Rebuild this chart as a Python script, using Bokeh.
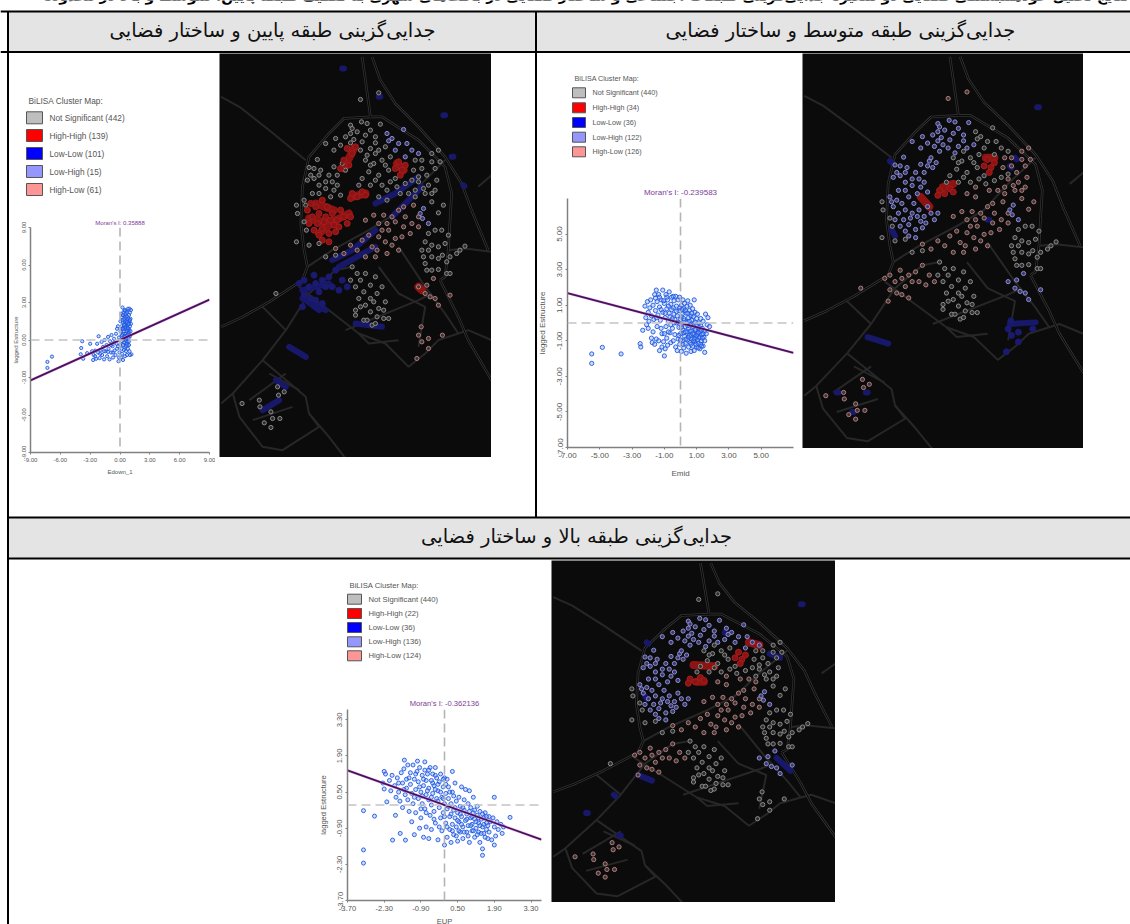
from bokeh.plotting import figure
from bokeh.layouts import column
from bokeh.models import FixedTicker, NumeralTickFormatter, Range1d, Span
from bokeh.core.properties import value
from bokeh.embed import file_html
from bokeh.resources import INLINE

# ---------- table texts ----------
caption = "نتایج تحلیل خودهمبستگی فضایی دو متغیره جدایی‌گزینی طبقات اجتماعی و ساختار فضایی در بافت‌های شهری به تفکیک طبقه پایین، متوسط و بالا در محدوده"
head_low = "جدایی‌گزینی طبقه پایین و ساختار فضایی"
head_mid = "جدایی‌گزینی طبقه متوسط و ساختار فضایی"
head_up = "جدایی‌گزینی طبقه بالا و ساختار فضایی"

legend_title = "BiLISA Cluster Map:"
legend_colors = ["#bebebe", "#ff0000", "#0000ff", "#9696ff", "#ff9696"]
legend_low = ["Not Significant (442)", "High-High (139)", "Low-Low (101)", "Low-High (15)", "High-Low (61)"]
legend_mid = ["Not Significant (440)", "High-High (34)", "Low-Low (36)", "Low-High (122)", "High-Low (126)"]
legend_up = ["Not Significant (440)", "High-High (22)", "Low-Low (36)", "Low-High (136)", "High-Low (124)"]

# ---------- Moran scatter plots ----------
moran_low, moran_mid, moran_up = 0.35888, -0.239583, -0.362136
ticks_low = [-9, -6, -3, 0, 3, 6, 9]
ticks_mid = [-7, -5, -3, -1, 1, 3, 5]
ticks_up = [-3.7, -2.3, -0.9, 0.5, 1.9, 3.3]

low_points = [(-7.3,-1.75),(-7.3,-2.23),(-6.84,-1.33),(-3.8,-0.1),(-3.9,-0.64),(-3.95,-1.14),(-3.7,-1.5),(-3.3,-1.05),(-3.0,-0.3),(-2.8,-0.9),(-2.7,-1.6),(-2.65,-1.2),(-2.5,-0.85),(-2.4,-1.5),(-2.3,-0.3),(-2.2,-1.0),(-2.15,0.3),(-2.05,-1.45),(-1.95,-0.8),(-1.85,-0.15),(-1.8,-1.2),(-1.7,-0.55),(-1.6,-1.55),(-1.55,0.0),(-1.45,-0.9),(-1.35,-0.4),(-1.3,-1.3),(-1.2,0.25),(-1.15,-0.7),(-1.05,-1.55),(-1.0,-0.1),(-0.9,-1.0),(-0.85,0.4),(-0.75,-0.5),(-0.7,-1.4),(-0.6,0.1),(-0.55,-0.85),(-0.45,-1.2),(-0.4,0.5),(-0.35,-0.3),(-0.3,-0.7),(-0.2,1.1),(-0.15,-1.7),(-0.1,0.2),(-0.05,-1.0),
(0.05,1.5),(0.05,0.7),(0.05,-0.4),(0.1,-1.4),(0.15,2.1),(0.15,1.1),(0.15,0.3),(0.15,-0.7),(0.2,1.8),(0.2,0.9),(0.2,-0.1),(0.2,-1.1),(0.25,2.6),(0.3,1.4),(0.3,0.5),(0.3,-0.4),(0.3,-1.6),(0.35,2.2),(0.35,1.0),(0.35,0.1),(0.4,1.7),(0.4,0.7),(0.4,-0.8),(0.45,2.4),(0.45,1.3),(0.45,0.3),(0.45,-0.2),(0.5,1.9),(0.5,0.9),(0.5,-0.6),(0.5,-1.3),(0.55,2.1),(0.55,1.5),(0.55,0.5),(0.55,0),(0.6,1.1),(0.6,1.8),(0.6,0.2),(0.6,-0.9),(0.65,2.3),(0.65,1.4),(0.65,0.7),(0.65,-0.3),(0.7,1.9),(0.7,1.0),(0.7,0.4),(0.7,-1.2),(0.75,1.6),(0.75,0.8),(0.75,-0.1),(0.8,2.5),(0.8,1.2),(0.8,0.5),(0.8,-0.7),(0.85,1.7),(0.85,0.9),(0.85,0.1),(0.9,2.0),(0.9,1.3),(0.9,0.6),(0.9,-0.4),(0.95,1.5),(0.95,0.8),(0.95,-0.9),(1.0,2.2),(1.0,1.1),(1.0,0.3),(1.05,1.7),(1.05,0.7),(1.1,1.3),(1.1,2.4),(1.15,-1.15),(1.0,-1.2),
(0.25,1.6),(0.4,1.2),(0.55,1.0),(0.7,1.45),(0.85,1.3),(1.0,1.6),(0.3,0.9),(0.5,0.25),(0.65,0.1),(0.8,0.95),(0.95,0.4),(0.4,-0.2),(0.6,-0.5),(0.75,-0.4),(0.9,-0.1),(0.3,2.0),(0.5,2.35),(0.7,2.2),(0.95,2.5),(0.2,0.4),(-0.3,0.9),(-0.6,-0.2),(-0.9,-0.4),(-1.2,-0.95),(-1.6,-0.9),(-2.0,-1.1),(-2.5,-1.3),(-0.2,-0.5),(-0.1,-1.4),(-0.7,-1.0)]

mid_points = [(-5.5,-1.74),(-5.5,-2.27),(-4.84,-1.37),(-3.68,-1.74),(-2.5,-1.16),(-2.46,-1.35),(-2.34,-0.41),
(-2.2,0.95),(-2.15,0.3),(-2.1,-0.1),(-2.05,1.2),(-2.0,0.6),(-2.0,-0.3),(-1.95,0.1),(-1.9,0.85),(-1.85,1.3),(-1.8,-0.85),(-1.8,0.4),(-1.75,-1.1),(-1.7,1.0),(-1.7,-0.5),(-1.65,0.2),(-1.6,1.6),(-1.6,-1.2),(-1.55,1.4),(-1.55,0.7),(-1.5,1.85),(-1.5,-0.9),(-1.45,1.2),(-1.45,-0.2),(-1.4,0.45),(-1.35,1.6),(-1.35,-1.0),(-1.3,0.9),(-1.3,-1.55),(-1.25,0.15),(-1.2,1.3),(-1.15,-0.6),(-1.15,-1.35),(-1.1,1.85),(-1.1,0.6),(-1.05,-1.05),(-1.0,-1.85),(-1.0,1.1),(-0.95,0.3),(-0.95,-1.45),(-0.9,1.6),(-0.9,-0.2),(-0.85,0.8),(-0.85,-0.85),(-0.8,1.3),(-0.8,-1.25),(-0.75,0.1),(-0.7,1.75),(-0.7,0.55),(-0.65,-0.55),(-0.6,1.05),(-0.6,-1.1),(-0.55,1.45),(-0.5,0.25),(-0.5,-0.3),(-0.45,0.85),(-0.45,-1.0),(-0.4,1.25),(-0.4,0.5),(-0.35,-0.65),(-0.3,1.5),(-0.3,-1.35),(-0.25,0.0),(-0.25,0.95),(-0.2,-1.55),(-0.2,0.4),(-0.15,1.3),(-0.15,-0.9),(-0.1,0.7),(-0.1,-0.25),(-0.05,1.45),(-0.05,-1.2),(0,0.2),(0,-0.6),(0.05,1.0),(0.05,-1.6),(0.1,0.5),(0.1,-0.1),(0.1,-1.0),(0.15,1.3),(0.15,-0.4),(0.2,0.8),(0.2,-1.4),(0.25,0.15),(0.25,-0.75),(0.25,1.1),(0.3,-0.2),(0.3,-1.15),(0.35,0.55),(0.35,-1.7),(0.4,0.95),(0.4,-0.5),(0.4,0.05),(0.45,-0.95),(0.45,1.25),(0.5,0.3),(0.5,-0.3),(0.5,-1.35),(0.55,0.7),(0.55,-0.7),(0.6,-0.1),(0.6,-1.1),(0.6,1.0),(0.65,0.4),(0.65,-1.6),(0.7,-0.45),(0.7,0.15),(0.7,-0.9),(0.75,0.8),(0.75,-1.3),(0.8,-0.2),(0.8,0.35),(0.85,-0.65),(0.85,1.3),(0.85,-1.55),(0.9,0.05),(0.9,-1.05),(0.9,0.6),(0.95,-0.4),(0.95,-0.85),(1.0,0.25),(1.0,-1.35),(1.0,-0.1),(1.05,-0.6),(1.05,0.5),(1.1,-1.15),(1.1,-0.3),(1.15,0.0),(1.15,-0.85),(1.2,-1.45),(1.2,-0.5),(1.25,0.25),(1.25,-0.15),(1.3,-1.0),(1.3,-0.65),(1.35,-0.3),(1.4,-1.3),(1.4,0.1),(1.45,-0.8),(1.5,-0.45),(1.5,-1.65),(1.55,0.5),(1.6,-0.6),(1.65,-0.1),(1.7,0.3),(1.8,-0.2),
(-1.3,1.45),(-1.2,0.75),(-1.05,1.25),(-0.95,0.55),(-0.85,1.45),(-0.75,0.95),(-0.65,0.35),(-0.55,0.75),(-0.45,1.5),(-0.35,0.2),(-0.25,0.65),(-0.15,0.05),(-0.05,0.85),(0.05,0.35),(0.1,0.75),(0.2,0.25),(0.2,-0.55),(0.3,0.7),(0.3,-0.5),(0.35,-0.9),(0.45,0.55),(0.45,-0.15),(0.5,-0.8),(0.55,0.1),(0.6,-0.45),(0.65,-0.7),(0.65,-1.2),(0.7,0.55),(0.75,-0.6),(0.8,-1.0),(0.85,-0.05),(0.85,-0.9),(0.9,-0.35),(0.95,-1.2),(1.0,-0.7),(1.05,-0.95),(1.1,-0.55),(1.1,-1.4),(1.15,-0.25),(1.2,-0.8),(1.25,-1.2),(1.3,-0.4),(1.35,-0.85),(1.4,-0.6),(1.5,-1.0),(1.3,-1.3),(0.15,-1.2),(0.0,-0.95),(-0.1,-0.7),(0.05,-0.25),(-0.4,0.0),(-0.6,-0.1),(-0.75,-0.5),(-1.0,-0.6),(-1.2,-0.3),(-1.5,0.3)]

up_points = [(-3.09,-0.22),(-3.09,-1.74),(-3.09,-2.25),(-2.67,-0.43),(-2.2,0.12),(-1.87,-0.4),(-1.98,-1.36),(-1.69,-1.1),(-1.49,-1.36),(2.5,-0.48),(1.9,0.3),(-1.53,1.74),(-1.03,1.7),(-0.75,1.67),
(-2.3,1.3),(-2.25,1.2),(-2.35,0.85),(-2.3,0.62),(-2.1,0.95),(-2.0,1.15),(-2.05,0.55),(-1.9,0.75),(-1.8,1.05),(-1.85,0.3),(-1.75,0.5),(-1.7,0.15),(-1.65,1.25),(-1.6,0.85),(-1.6,-0.1),(-1.55,1.4),(-1.5,0.4),(-1.45,1.0),(-1.45,0.65),(-1.4,0.2),(-1.4,1.55),(-1.35,-0.25),(-1.3,0.8),(-1.3,1.25),(-1.25,0.45),(-1.25,-0.65),(-1.2,1.55),(-1.2,0.05),(-1.15,1.0),(-1.15,-1.15),(-1.1,0.6),(-1.1,-0.3),(-1.05,1.3),(-1.0,0.9),(-1.0,0.25),(-0.95,-0.9),(-0.95,1.45),(-0.9,0.5),(-0.9,-0.5),(-0.85,1.15),(-0.85,0.05),(-0.8,-1.25),(-0.8,0.75),(-0.75,1.35),(-0.75,-0.15),(-0.7,0.4),(-0.7,0.95),(-0.7,-0.85),(-0.65,1.2),(-0.6,0.2),(-0.6,-1.3),(-0.6,0.65),(-0.55,1.45),(-0.55,-0.4),(-0.5,0.95),(-0.5,0.0),(-0.5,-0.95),(-0.45,0.45),(-0.45,1.2),(-0.4,-0.25),(-0.4,0.75),(-0.35,1.45),(-0.35,-0.7),(-0.3,0.25),(-0.3,1.05),(-0.25,-1.35),(-0.25,0.55),(-0.2,-0.1),(-0.2,0.9),(-0.15,-0.5),(-0.15,1.2),(-0.1,0.3),(-0.1,-1.0),(-0.05,0.7),(-0.05,-0.3),(0.0,1.05),(0.0,-1.55),(0.0,0.05),(0.05,-0.7),(0.05,0.45),(0.1,-0.15),(0.1,1.0),(0.1,-1.25),(0.15,0.25),(0.15,0.7),(0.2,-0.45),(0.2,-0.95),(0.25,-1.45),(0.25,0.05),(0.3,0.5),(0.3,-0.75),(0.3,1.3),(0.35,-0.2),(0.35,-1.15),(0.4,-0.5),(0.4,0.85),(0.45,-0.85),(0.45,0.15),(0.5,-1.4),(0.5,-0.3),(0.55,0.3),(0.55,-0.65),(0.6,-1.05),(0.6,-0.05),(0.65,-0.45),(0.65,0.7),(0.7,-0.85),(0.7,-1.3),(0.75,0.2),(0.75,-0.2),(0.8,-0.6),(0.8,0.6),(0.85,-1.05),(0.85,-0.35),(0.9,0.05),(0.9,-0.8),(0.95,-1.45),(0.95,0.55),(1.0,-0.5),(1.0,-0.1),(1.05,-1.0),(1.05,-0.75),(1.1,0.3),(1.1,-0.3),(1.15,-0.55),(1.15,-1.25),(1.2,-0.9),(1.25,-0.05),(1.25,-0.4),(1.3,-1.05),(1.3,-0.7),(1.35,-0.25),(1.35,-1.45),(1.4,-0.55),(1.45,-0.85),(1.45,-1.7),(1.45,-1.95),(1.5,-0.5),(1.5,-1.1),(1.55,-0.3),(1.6,-0.7),(1.6,-0.95),(1.65,-1.3),(1.7,-0.45),(1.75,-0.65),(1.8,-1.35),(1.85,-0.5),(1.9,-0.85),(1.9,-1.55),(1.95,-1.2),(2.0,-0.65),(2.05,-0.95),(2.15,-0.75),(2.2,-1.1),(2.25,-0.85),
(-1.75,0.85),(-1.55,0.6),(-1.35,1.05),(-1.15,0.3),(-1.1,1.2),(-0.95,0.7),(-0.85,0.35),(-0.8,1.0),(-0.65,0.55),(-0.6,1.35),(-0.5,0.3),(-0.45,0.85),(-0.35,0.6),(-0.35,1.15),(-0.25,0.15),(-0.25,0.8),(-0.15,0.5),(-0.05,1.0),(-0.05,0.25),(0.05,0.8),(0.15,-0.05),(0.2,0.5),(0.3,-1.0),(0.35,0.35),(0.4,-0.1),(0.5,-0.6),(0.55,-1.0),(0.65,-0.75),(0.7,-0.1),(0.75,-1.05),(0.85,-0.55),(0.9,-1.2),(0.95,-0.25),(1.0,-0.8),(1.05,-0.45),(1.1,-1.0),(1.15,-0.2),(1.2,-0.65),(1.25,-1.15),(1.3,-0.5),(1.35,-0.8),(1.4,-1.1),(1.45,-0.35),(1.5,-0.75),(1.55,-1.25),(1.6,-0.45),(1.65,-0.8),(1.7,-1.05),(-0.9,-0.15),(-0.7,-0.3),(-0.4,-0.55),(-0.2,-0.85),(0.0,-0.45),(0.1,-0.85),(0.25,-0.35),(0.45,-1.2),(0.6,-0.35)]

# ---------- the base map, in its own map units ----------
main_roads = [
 [430,440,455],[10,80,190],
 [460,485,530,600,680,730,760,810],[10,80,150,220,310,390,470,590],
 [455,375,330,270,250,245,255,265,250,150,70,5],[190,195,240,310,400,510,590,640,680,745,790,820],
 [455,490,600,680,700,695,690,680,665],[190,190,260,340,420,500,590,670,680],
 [665,720,750,820],[680,790,860,980],
]
faint_roads = [
 [5,60,150,260],[130,160,230,320],
 [780,820],[400,365],
 [690,740,820],[590,585,595],
 [265,340,450,530,600,680],[640,590,530,480,400,320],
 [240,330,420,500,570,620,660,720,750,820],[700,770,840,870,940,900,860,840,830,860],
 [130,200,130,40,5],[760,830,920,1020,1050],
 [200,270,350,400],[830,720,650,640],
 [130,260,270,330,380],[920,1030,1080,1150,1215],
 [40,60,130,190,300,270],[1020,1090,1180,1190,1120,1080],
 [150,240],[960,1010],
 [90,200],[1040,960],
 [100,220],[1100,1060],
 [480,540,620,600],[640,720,760,880],
 [380,600,640],[830,740,720],
 [540,620,680,720],[580,700,780,840],
 [420,450,540],[840,870,860],
]

north_u = [395,428,445,485,415,440,380,350,405,430,320,365,455,480,500,400,455,470,395,345,425,395,470,445]
north_v = [215,205,210,212,235,245,250,255,258,265,270,275,285,290,280,225,230,250,240,290,290,268,268,305]
north_class = "nbb"
nehub_u = [505,520,510,540,555,565,530,560,580,600]
nehub_v = [240,255,262,270,228,270,290,310,290,300]
nehub_class = "bnb"
east_u = [640,660,610,625,650,630,655,650,615,675,660,640,600,590,610,640,665,585,620,640,590]
east_v = [300,290,345,365,345,395,380,410,405,455,478,445,385,320,320,325,325,350,420,420,410]
east_class = "npn"
westup_u = [295,270,285,305,265,285,300,345,330,355,340,320,370,380,355,275,300,320,345,280,255,300,335,365,260]
westup_v = [318,342,345,350,380,375,395,340,365,365,385,405,330,350,395,365,365,385,410,420,440,420,430,425,455]
westup_class = "nbb"
redup_u = [385,400,375,390,410,365]
redup_v = [285,300,320,335,280,345]
redup_class = "hbb"
nered_u = [540,530,550,545,560]
nered_v = [325,345,350,365,335]
nered_class = "hhh"
midred_u = [400,415,430,440,395]
midred_v = [420,430,415,425,435]
midred_class = "hhh"
westbig_u = [265,280,295,310,325,340,355,310,330,345,375,290,320,300,365,385,270,275,300,315,335,350,285,310,330,360,395]
westbig_v = [470,490,510,440,460,480,500,525,540,515,490,460,490,545,470,510,510,450,480,505,500,535,530,560,565,520,490]
westbig_class = "hbb"
edge_u = [232,235,262,270,300,232,320,350,255]
edge_v = [455,480,530,575,570,565,610,605,505]
edge_class = "nnn"
center_u = [440,470,465,490,515,450,480,510,430,455,490,515,535,560,580,600,455,500,530,470,420]
center_v = [320,300,330,320,310,355,365,350,375,395,395,385,400,390,380,370,335,335,375,380,395]
center_class = "nnn"
core_u = [505,545,570,590,480,505]
core_v = [410,420,420,430,430,440]
core_class = "npp"
south_u = [465,495,520,540,555,585,600,440,530,555,580,510,480,500,460,530,550,440,415,470,505,540,480,505,560,600,575,490,450,520,475,430,395,375,350]
south_v = [485,485,490,470,460,455,490,500,505,520,510,530,550,565,580,555,550,610,590,610,600,590,510,510,490,520,540,530,545,575,590,560,575,600,585]
south_class = "ppp"
eastlow_u = [620,630,615,620,640,660,680,672,660,640,685,625,695,630,650,670,690,640,660,685,610]
eastlow_v = [565,590,610,630,650,648,570,605,580,575,660,650,660,540,530,530,545,610,615,625,590]
eastlow_class = "nnn"
lobe_u = [605,612,615,630]
lobe_v = [480,495,465,510]
lobe_class = "bbb"
outer_u = [715,725,740,695]
outer_v = [600,590,578,610]
outer_class = "nnn"
delta_u = [400,415,395,410,440,470,490,455,420,480,440,410,475,410,435,460,495,510,445,470,425,455,475,435,500,465,425,455,495]
delta_v = [640,660,680,700,660,670,700,735,735,765,755,770,790,785,800,815,795,795,800,810,680,695,720,715,745,745,760,775,770]
delta_class = "nnn"
secorner_u = [600,625,620,635,650,660,695,645]
secorner_v = [700,695,720,730,735,755,725,675]
secorner_class = "pbb"
farse_u = [608,600,630,610,630,595,672]
farse_v = [820,845,855,865,885,915,845]
farse_class = "pln"
southwest_u = [68,120,122,155,160,135,155,182,178,195,175]
southwest_v = [1050,1040,1060,1075,1095,1108,1122,1095,1025,1015,1000]
southwest_class = "npp"
westlow_u = [240,270,255,290,300,310,340,330,370,350,255,285,310,275,290,320,360,385,250]
westlow_v = [690,700,725,690,715,750,700,670,680,650,680,665,680,735,740,700,710,700,760]
westlow_class = "lpp"
lone_u = [425,170,480]
lone_v = [138,720,118]
lone_class = "npn"

site_groups = [
 (north_u,north_v,north_class),(nehub_u,nehub_v,nehub_class),(east_u,east_v,east_class),
 (westup_u,westup_v,westup_class),(redup_u,redup_v,redup_class),(nered_u,nered_v,nered_class),
 (midred_u,midred_v,midred_class),(westbig_u,westbig_v,westbig_class),(edge_u,edge_v,edge_class),
 (center_u,center_v,center_class),(core_u,core_v,core_class),(south_u,south_v,south_class),(eastlow_u,eastlow_v,eastlow_class),
 (lobe_u,lobe_v,lobe_class),(outer_u,outer_v,outer_class),(delta_u,delta_v,delta_class),
 (secorner_u,secorner_v,secorner_class),(farse_u,farse_v,farse_class),
 (southwest_u,southwest_v,southwest_class),(westlow_u,westlow_v,westlow_class),(lone_u,lone_v,lone_class),
]

lowlow_1 = [[340,400,470],[620,590,530],[470,530,600],[450,420,370],[360,470],[640,580],[520,610],[490,400],[250,320],[735,770],[250,330],[710,690],[260,300],[740,770],[410,490],[810,820],[210,260],[880,910],[130,180],[1070,1040],[170,200],[980,1000],[370,375],[45,45],[480,485],[130,130],[675,680],[185,185],[700,705],[310,310],[735,738],[395,398]]
lowlow_2 = [[255,260],[330,335],[260,270],[540,560],[605,680],[830,825],[190,250],[870,890],[100,105],[1040,1040],[185,190],[1040,1040],[145,150],[1100,1100],[685,690],[165,165],[620,625],[320,325],[605,610],[345,350],[540,545],[510,510]]
lowlow_3 = [[275,280],[290,295],[270,275],[480,490],[500,510],[255,260],[630,660],[330,345],[650,690],[700,745],[250,290],[760,780],[100,105],[895,895],[180,185],[830,835],[195,200],[975,975],[720,725],[155,155]]
red_patch_1 = [[270,330,390],[495,510,480],[290,345],[450,470],[300,350],[540,500],[375,405],[345,285],[400,440],[430,420],[535,555],[330,350],[600,610],[700,710]]
red_patch_2 = [[345,370],[440,470],[410,440],[410,400],[535,560],[320,320]]
red_patch_3 = [[410,470],[370,375],[420,440],[430,430],[570,600],[290,300]]

class_ring = {"n":"#8c8c8c","b":"#8e8ed8","p":"#ac8080","h":"#a81c1c","l":"#1a1a70"}
class_fill = {"n":"#2e2e2e","b":"#3a3a66","p":"#463232","h":"#8e1414","l":"#1a1a70"}
class_size = {"n":4.2,"b":4.2,"p":4.2,"h":6,"l":6}

PAGE_W, PAGE_H = 1130, 924
ORIGIN = 8  # the root column is pulled 8px up and left over the page margin

def place(left, top):
    return {"position":"absolute","left":f"{left+ORIGIN}px","top":f"{top+ORIGIN}px"}

# ---------- the page: table, headers, legends ----------
bg = figure(width=PAGE_W, height=PAGE_H, x_range=Range1d(0,PAGE_W), y_range=Range1d(PAGE_H,0),
            toolbar_location=None, output_backend="svg", min_border=0, outline_line_color=None,
            x_axis_location=None, y_axis_location=None, frame_align=False, styles=place(0,0))
bg.grid.visible = False
bg.quad(left=[8,536,8], right=[536,1130,1130], top=[11,11,517], bottom=[51,51,558], fill_color="#e4e4e4", line_color=None)
bg.segment(x0=[0,0,8,8,7.5,535.5], y0=[11,51.5,517,558,11,11], x1=[1130,1130,1130,1130,7.5,535.5], y1=[11,51.5,517,558,924,517],
           line_color="#000000", line_width=2)
ar = value("DejaVu Sans")
bg.text(x=[1128], y=[-5], text=[caption], text_font=ar, text_font_size="14px", text_font_style="bold",
        text_align="right", text_baseline="alphabetic", text_color="#000000")
bg.text(x=[272,840,576], y=[30,30,536], text=[head_low,head_mid,head_up], text_font=ar, text_font_size="19.5px",
        text_align="center", text_baseline="middle", text_color="#111111")

def legend(labels, sw_left, sw_w, sw_h, rows, txt_x, title_x, title_y, size):
    centre = sw_left + sw_w/2
    bg.rect(x=[centre]*5, y=rows, width=sw_w, height=sw_h, fill_color=legend_colors, line_color="#555555", line_width=1)
    fnt = value("Liberation Sans")
    bg.text(x=[txt_x]*5, y=rows, text=labels, text_font=fnt, text_font_size=size, text_baseline="middle", text_color="#555555")
    bg.text(x=[title_x], y=[title_y], text=[legend_title], text_font=fnt, text_font_size=size, text_baseline="middle", text_color="#555555")

legend(legend_low, 26, 16, 12, [117.3,135,153,171,189], 49, 28, 100, "8.3px")
legend(legend_mid, 572, 13, 10, [92.3,107.3,122,136.7,151.3], 592, 574, 78, "7.2px")
legend(legend_up, 347, 14, 10, [598.7,613,627,641.3,655.3], 368, 349, 585, "7.7px")

# ---------- the maps ----------
def make_map(frame, lowlow, red, which):
    l,t,r,b = frame
    m = figure(width=r-l, height=b-t, x_range=Range1d(0,820), y_range=Range1d(1212,0), toolbar_location=None,
               output_backend="svg", min_border=0, outline_line_color=None, background_fill_color="#0b0b0b",
               x_axis_location=None, y_axis_location=None, frame_align=False, styles=place(l,t))
    m.grid.visible = False
    m.multi_line(faint_roads[0::2], faint_roads[1::2], line_color="#272727", line_width=2)
    m.multi_line(main_roads[0::2], main_roads[1::2], line_color="#333333", line_width=2.6)
    m.multi_line(main_roads[0::2], main_roads[1::2], line_color="#050505", line_width=1)
    m.multi_line(lowlow[0::2], lowlow[1::2], line_color="#18186a", line_width=6, line_cap="round")
    m.multi_line(red[0::2], red[1::2], line_color="#8e1414", line_width=8, line_cap="round")
    for us, vs, cls in site_groups:
        c = cls[which]
        m.scatter(us, vs, size=class_size[c], fill_color=class_fill[c], line_color=class_ring[c], line_width=1)
    return m

map1 = make_map((219,53,491,457), lowlow_1, red_patch_1, 0)
map2 = make_map((802,53,1083,448), lowlow_2, red_patch_2, 1)
map3 = make_map((551,560,835,902), lowlow_3, red_patch_3, 2)

# ---------- the Moran plots ----------
def moran(points, slope, ticks, rng, frame, title, xlabel, fsize, msize, standoff_x, standoff_y):
    l,t,r,b = frame
    ml, mt, mr, mb = 40, 24, 6, 36
    p = figure(width=r-l+ml+mr, height=b-t+mt+mb, x_range=Range1d(-rng,rng), y_range=Range1d(-rng,rng),
               toolbar_location=None, output_backend="svg", min_border_left=ml, min_border_top=mt,
               min_border_right=mr, min_border_bottom=mb, outline_line_color=None, frame_align=False,
               background_fill_alpha=0, border_fill_alpha=0, title=title, styles=place(l-ml,t-mt))
    p.title.align = "center"
    p.title.text_color = "#7d3c98"
    p.title.text_font = "Liberation Sans"
    p.title.text_font_style = "normal"
    p.title.text_font_size = fsize
    p.title.standoff = 4
    p.grid.visible = False
    p.xaxis.axis_label = xlabel
    p.yaxis.axis_label = "lagged Estructure"
    for ax in (p.xaxis[0], p.yaxis[0]):
        ax.ticker = FixedTicker(ticks=ticks)
        ax.formatter = NumeralTickFormatter(format="0.00")
        ax.axis_line_color = "#808080"
        ax.axis_line_width = 1.5
        ax.major_tick_line_color = "#808080"
        ax.major_tick_in = 0
        ax.major_tick_out = 2
        ax.minor_tick_line_color = None
        ax.major_label_text_font = "Liberation Sans"
        ax.major_label_text_font_size = fsize
        ax.major_label_text_color = "#555555"
        ax.axis_label_text_font = "Liberation Sans"
        ax.axis_label_text_font_size = fsize
        ax.axis_label_text_font_style = "normal"
        ax.axis_label_text_color = "#555555"
        ax.major_label_standoff = 3
    p.xaxis[0].axis_label_standoff = standoff_x
    p.yaxis[0].axis_label_standoff = standoff_y
    p.yaxis[0].major_label_orientation = "vertical"
    p.add_layout(Span(location=0, dimension="height", line_color="#b4b4b4", line_width=1.6, line_dash="9 5"))
    p.add_layout(Span(location=0, dimension="width", line_color="#c4c4c4", line_width=1.6, line_dash="9 5"))
    xs = [pt[0] for pt in points]
    ys = [pt[1] for pt in points]
    p.scatter(xs, ys, size=msize, fill_color="#6f9cf5", fill_alpha=0.35, line_color="#1f58e0", line_alpha=0.9, line_width=1)
    ends = [-rng, rng]
    p.line(ends, [slope*e for e in ends], line_color="#e0a0e0", line_width=3, line_alpha=0.6)
    p.line(ends, [slope*e for e in ends], line_color="#4a1060", line_width=1.8)
    return p

plot1 = moran(low_points, moran_low, ticks_low, 9, (30,227,209,452), "Moran's I: 0.35888", "Edown_1", "6px", 3.2, 4, 0)
plot2 = moran(mid_points, moran_mid, ticks_mid, 7, (567,198,793,447), "Moran's I: -0.239583", "Emid", "8px", 4.2, 8, 8)
plot3 = moran(up_points, moran_up, ticks_up, 3.7, (347,709,541,900), "Moran's I: -0.362136", "EUP", "7.6px", 4, 3, 7)

root = column(bg, map1, map2, map3, plot1, plot2, plot3, width=PAGE_W, height=PAGE_H, margin=(-8,0,0,-8))
open("out.html", "w").write(file_html(root, INLINE))
